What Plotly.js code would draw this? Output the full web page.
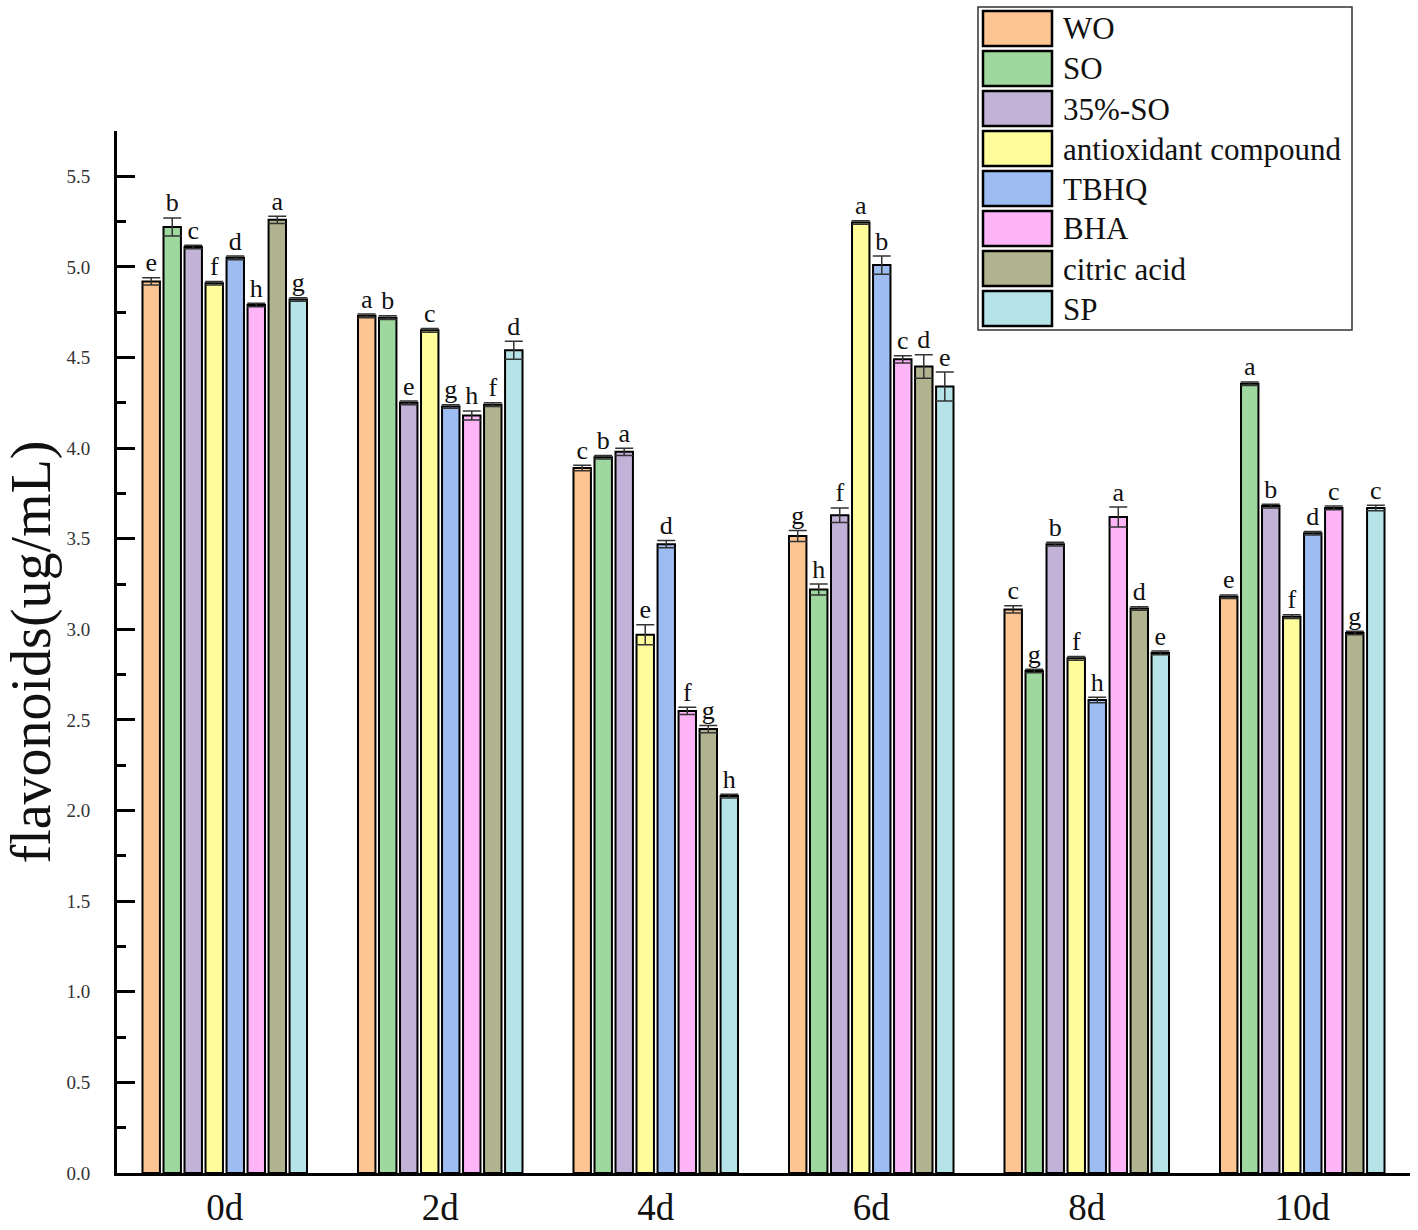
<!DOCTYPE html>
<html>
<head>
<meta charset="utf-8">
<script src="https://cdn.plot.ly/plotly-3.0.1.min.js"></script>
<style>html,body{margin:0;padding:0;background:#fff;}#chart{width:1418px;height:1230px;}</style>
</head>
<body>
<div id="chart"></div>
<script>
const days = ["0d", "2d", "4d", "6d", "8d", "10d"];
const seriesNames = ["WO", "SO", "35%-SO", "antioxidant compound", "TBHQ", "BHA", "citric acid", "SP"];
const seriesColors = ["#FCC592", "#9FD89E", "#C3B2D7", "#FFFC9C", "#9CBCF2", "#FDB5F8", "#B0B38E", "#B6E3E8"];

const WO      = [4.92, 4.73, 3.89, 3.515, 3.11, 3.18];
const SO      = [5.22, 4.72, 3.95, 3.22, 2.77, 4.355];
const SO35    = [5.11, 4.25, 3.98, 3.63, 3.47, 3.68];
const antiox  = [4.91, 4.65, 2.97, 5.245, 2.84, 3.07];
const TBHQ    = [5.05, 4.23, 3.47, 5.01, 2.61, 3.53];
const BHA     = [4.79, 4.18, 2.55, 4.49, 3.62, 3.67];
const citric  = [5.26, 4.24, 2.45, 4.45, 3.115, 2.98];
const SP      = [4.82, 4.54, 2.08, 4.34, 2.87, 3.67];

const errWO     = [0.02, 0.01, 0.015, 0.03, 0.02, 0.01];
const errSO     = [0.05, 0.01, 0.01, 0.03, 0.01, 0.01];
const errSO35   = [0.01, 0.01, 0.02, 0.04, 0.01, 0.01];
const errAntiox = [0.01, 0.01, 0.055, 0.01, 0.01, 0.01];
const errTBHQ   = [0.01, 0.01, 0.02, 0.05, 0.015, 0.01];
const errBHA    = [0.01, 0.025, 0.02, 0.02, 0.055, 0.01];
const errCitric = [0.02, 0.01, 0.02, 0.065, 0.01, 0.01];
const errSP     = [0.01, 0.05, 0.01, 0.08, 0.01, 0.015];

const letWO     = ["e", "a", "c", "g", "c", "e"];
const letSO     = ["b", "b", "b", "h", "g", "a"];
const letSO35   = ["c", "e", "a", "f", "b", "b"];
const letAntiox = ["f", "c", "e", "a", "f", "f"];
const letTBHQ   = ["d", "g", "d", "b", "h", "d"];
const letBHA    = ["h", "h", "f", "c", "a", "c"];
const letCitric = ["a", "f", "g", "d", "d", "g"];
const letSP     = ["g", "d", "h", "e", "e", "c"];

const yTickVals = [0, 0.5, 1, 1.5, 2, 2.5, 3, 3.5, 4, 4.5, 5, 5.5];

const values = [WO, SO, SO35, antiox, TBHQ, BHA, citric, SP];
const errors = [errWO, errSO, errSO35, errAntiox, errTBHQ, errBHA, errCitric, errSP];
const letters = [letWO, letSO, letSO35, letAntiox, letTBHQ, letBHA, letCitric, letSP];

const serif = "'Liberation Serif', 'Times New Roman', serif";
const traces = [];
values.forEach((v, i) => {
  traces.push({
    type: "bar", name: seriesNames[i], x: days, y: v,
    marker: {color: seriesColors[i], line: {color: "#000", width: 2}},
    error_y: {type: "data", array: errors[i], visible: true, color: "#333", thickness: 1.5, width: 9},
    offsetgroup: "g" + i, showlegend: false, hoverinfo: "x+y+name"
  });
});
values.forEach((v, i) => {
  traces.push({
    type: "scatter", mode: "text", x: days, y: v.map((val, k) => val + errors[i][k]),
    text: letters[i], textposition: "top center",
    textfont: {family: serif, size: 26, color: "#111"},
    offsetgroup: "g" + i, showlegend: false, hoverinfo: "skip", cliponaxis: false
  });
});

// custom legend box built from names/colors
const L = 117, R = 8, T = 131, B = 57, W = 1418, H = 1230;
const pw = W - L - R, ph = H - T - B;
const px = (p) => (p - L) / pw;
const py = (p) => (H - B - p) / ph;
const shapes = [{type: "rect", xref: "paper", yref: "paper", x0: px(978), x1: px(1352), y0: py(330), y1: py(7),
  line: {color: "#333", width: 1.5}, fillcolor: "#fff", layer: "above"}];
const annotations = [];
seriesNames.forEach((n, i) => {
  const top = 11 + 40 * i;
  shapes.push({type: "rect", xref: "paper", yref: "paper", x0: px(983), x1: px(1052), y0: py(top + 35), y1: py(top),
    fillcolor: seriesColors[i], line: {color: "#000", width: 2.5}, layer: "above"});
  annotations.push({xref: "paper", yref: "paper", x: px(1061), y: py(top + 18), xanchor: "left", yanchor: "middle",
    text: n, showarrow: false, font: {family: serif, size: 31, color: "#111"}});
});

const layout = {
  width: W, height: H,
  margin: {l: L, r: R, t: T, b: B, pad: 0},
  paper_bgcolor: "#fff", plot_bgcolor: "#fff",
  barmode: "group", bargap: 0.22, bargroupgap: 0.17,
  scattermode: "group", scattergap: 0.22,
  showlegend: false,
  font: {family: serif, color: "#111"},
  xaxis: {
    type: "category", range: [-0.5, 5.5], showline: true, linecolor: "#000", linewidth: 3,
    ticks: "", showgrid: false, zeroline: false,
    tickfont: {family: serif, size: 37, color: "#111"}, ticklabelstandoff: 0
  },
  yaxis: {
    range: [0, 5.75], showline: true, linecolor: "#000", linewidth: 3,
    tickvals: yTickVals, tickformat: ".1f", ticks: "inside", ticklen: 18, tickwidth: 3, tickcolor: "#000",
    minor: {dtick: 0.25, ticks: "inside", ticklen: 9, tickwidth: 3, tickcolor: "#000", showgrid: false},
    showgrid: false, zeroline: false,
    tickfont: {family: serif, size: 19, color: "#333"}, ticklabelstandoff: 20,
    title: {text: "flavonoids(ug/mL)", font: {family: serif, size: 56, color: "#111"}, standoff: 12}
  },
  shapes: shapes, annotations: annotations
};

Plotly.newPlot("chart", traces, layout, {displayModeBar: false, staticPlot: true});
</script>
</body>
</html>
